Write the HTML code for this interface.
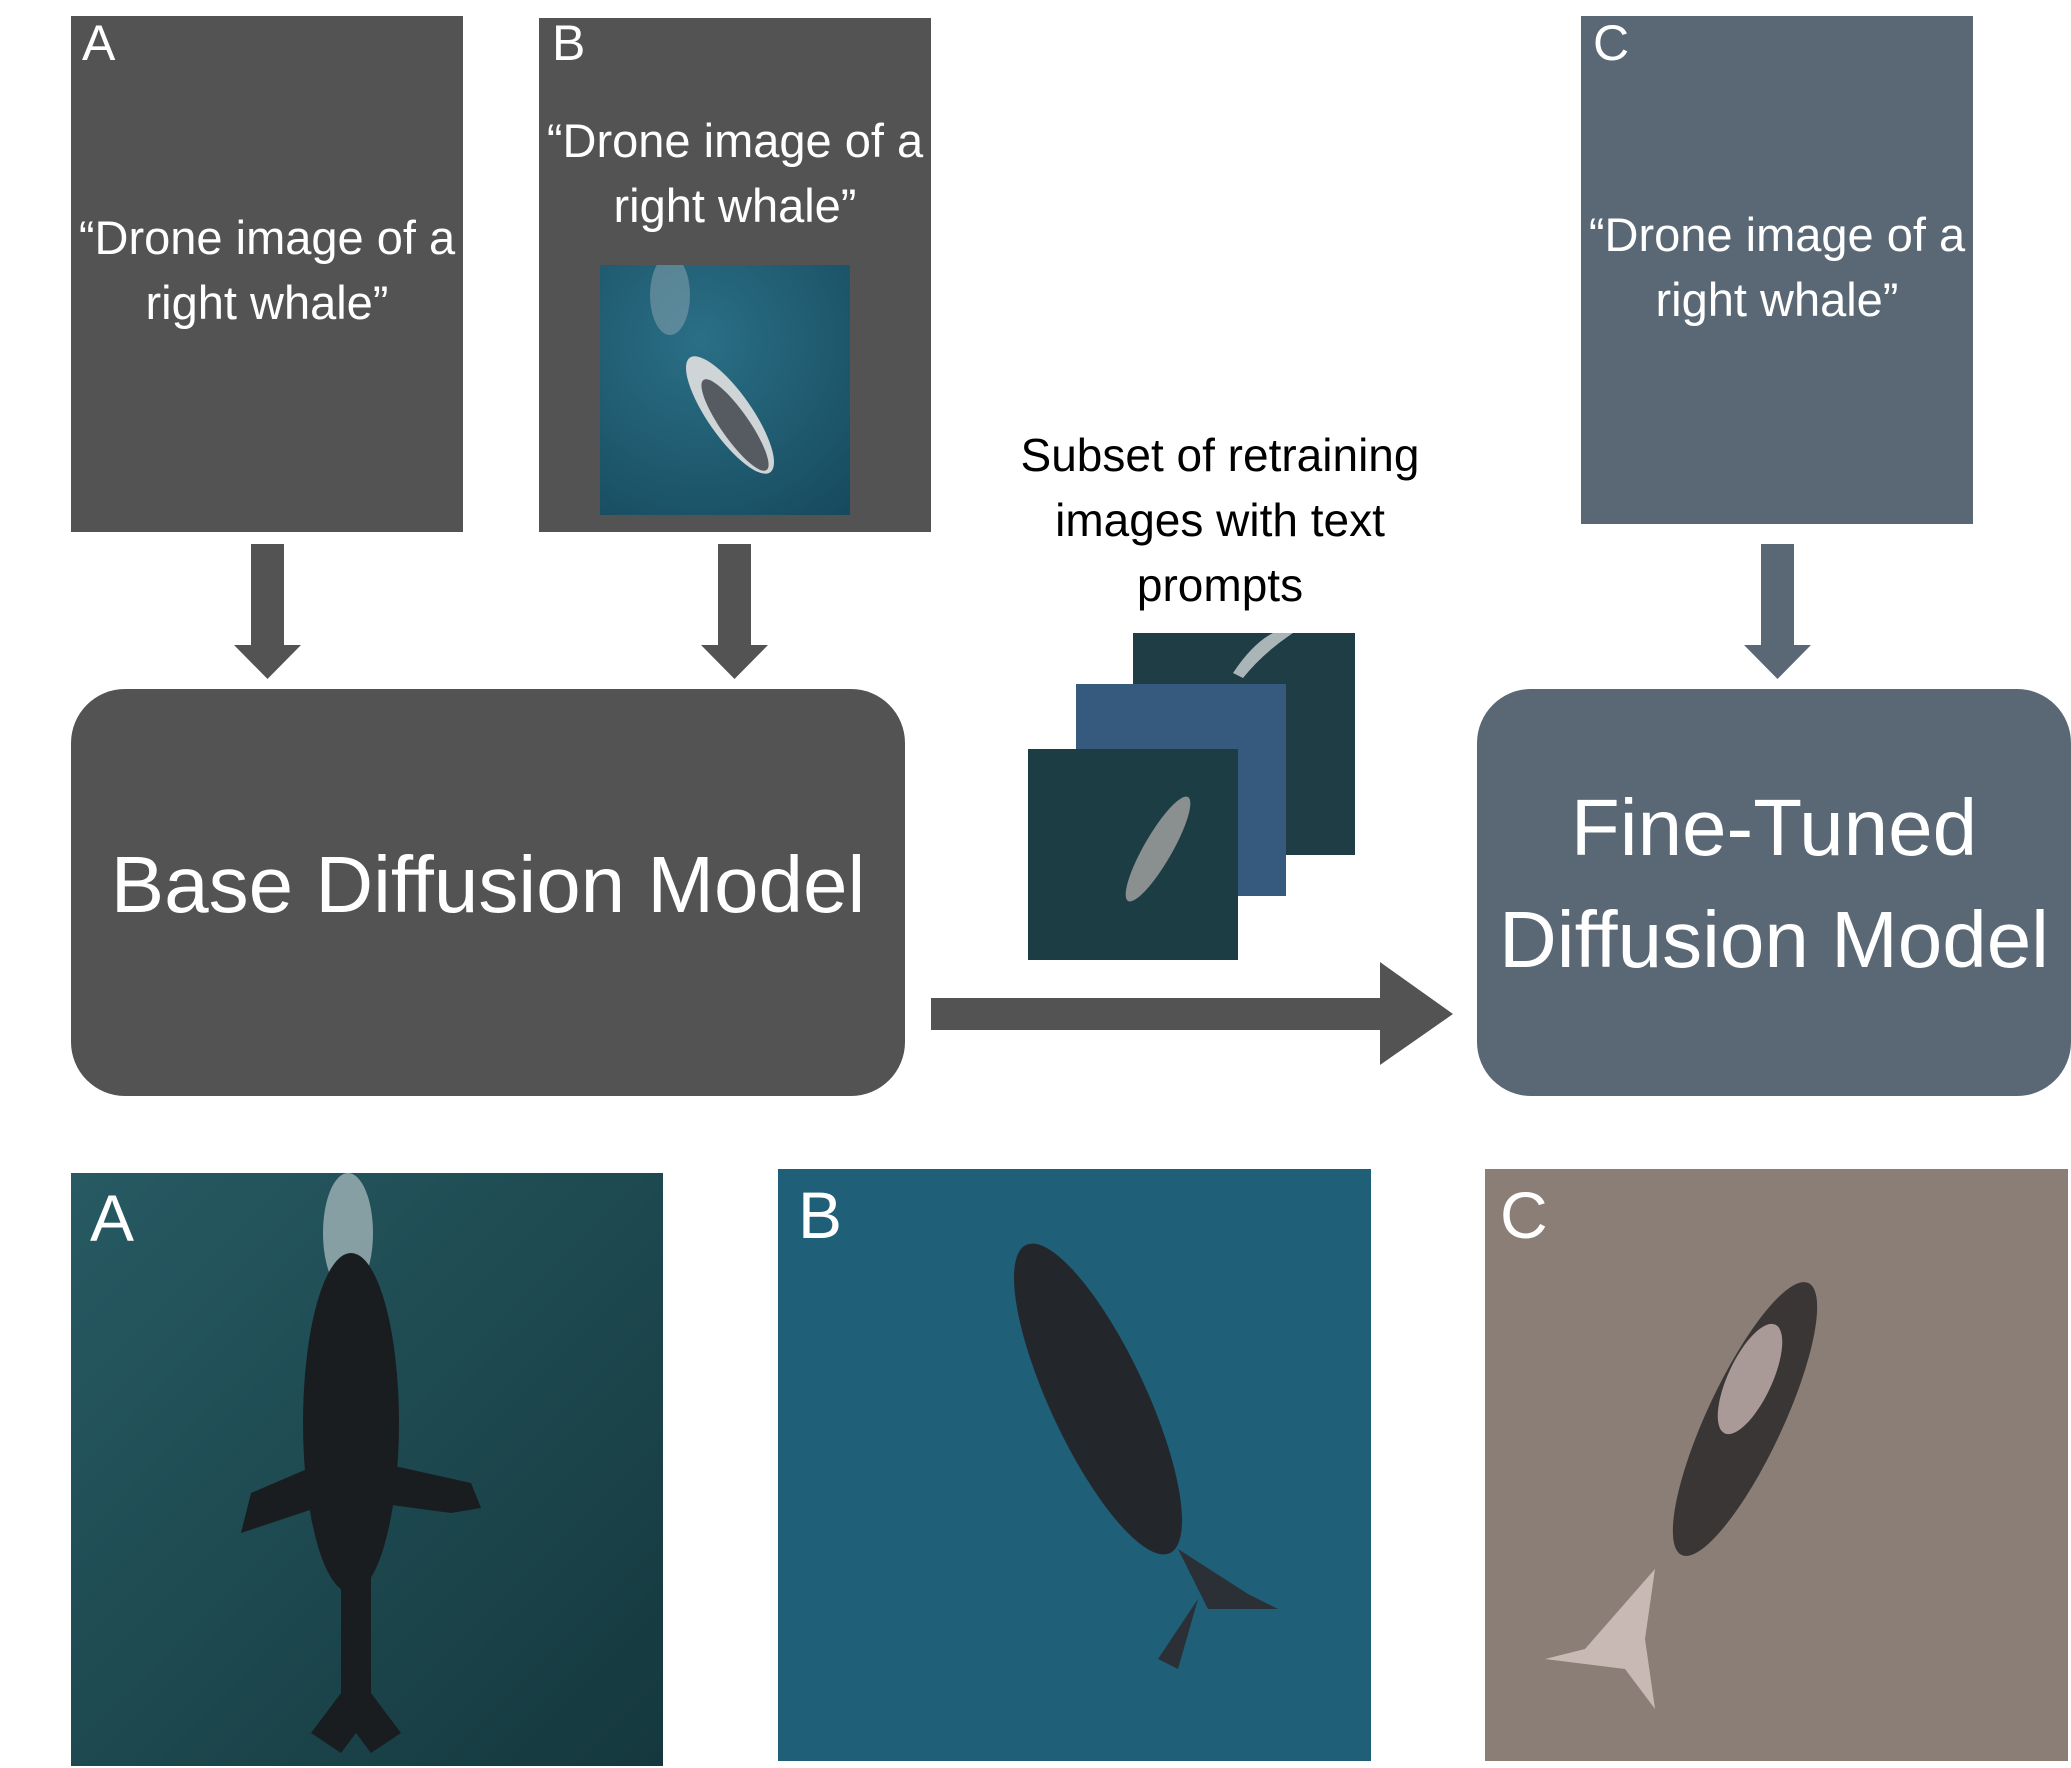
<!DOCTYPE html>
<html><head><meta charset="utf-8"><style>
html,body{margin:0;padding:0;background:#fff;}
body{width:2071px;height:1768px;position:relative;overflow:hidden;font-family:"Liberation Sans",sans-serif;}
.a{position:absolute;}
.dk{background:#535353;}
.sl{background:#596874;}
.t{position:absolute;color:#fff;text-align:center;white-space:nowrap;}
.lbl{position:absolute;color:#fff;font-size:50px;line-height:1;}
</style></head><body>

<div class="a dk" style="left:71px;top:16px;width:392px;height:516px"></div>
<div class="lbl" style="left:82px;top:18px">A</div>
<div class="t" style="left:71px;width:392px;top:205px;font-size:47px;line-height:65px">“Drone image of a<br>right whale”</div>

<div class="a dk" style="left:539px;top:18px;width:392px;height:514px"></div>
<div class="lbl" style="left:552px;top:18px">B</div>
<div class="t" style="left:539px;width:392px;top:108px;font-size:47px;line-height:65px">“Drone image of a<br>right whale”</div>
<svg class="a" style="left:600px;top:265px" width="250" height="250">
<defs><radialGradient id="g1" cx="0.4" cy="0.3" r="0.9"><stop offset="0" stop-color="#2a6f86"/><stop offset="1" stop-color="#174a5e"/></radialGradient></defs>
<rect width="250" height="250" fill="url(#g1)"/>
<ellipse cx="70" cy="30" rx="20" ry="40" fill="#8fa7b3" opacity="0.5"/>
<ellipse cx="130" cy="150" rx="22" ry="70" transform="rotate(-35 130 150)" fill="#cfd4d6"/>
<ellipse cx="135" cy="160" rx="14" ry="55" transform="rotate(-35 135 160)" fill="#555b60"/>
</svg>

<div class="a sl" style="left:1581px;top:16px;width:392px;height:508px"></div>
<div class="lbl" style="left:1593px;top:18px">C</div>
<div class="t" style="left:1581px;width:392px;top:202px;font-size:47px;line-height:65px">“Drone image of a<br>right whale”</div>

<svg class="a" style="left:0;top:0" width="2071" height="1768">
<path d="M251 544 H284 V645 H301 L267.5 679 L234 645 H251 Z" fill="#535353"/>
<path d="M718 544 H751 V645 H768 L734.5 679 L701 645 H718 Z" fill="#535353"/>
<path d="M1761 544 H1794 V645 H1811 L1777.5 679 L1744 645 H1761 Z" fill="#596874"/>
<path d="M931 998 H1380 V962 L1453 1014 L1380 1065 V1030 H931 Z" fill="#535353"/>
</svg>

<div class="a dk" style="left:71px;top:689px;width:834px;height:407px;border-radius:54px"></div>
<div class="t" style="left:71px;width:834px;top:840px;font-size:80px;line-height:90px">Base Diffusion Model</div>
<div class="a sl" style="left:1477px;top:689px;width:594px;height:407px;border-radius:54px"></div>
<div class="t" style="left:1477px;width:594px;top:772px;font-size:80px;line-height:112px">Fine-Tuned<br>Diffusion Model</div>

<div class="a" style="left:920px;width:600px;top:423px;text-align:center;font-size:46px;line-height:65px;color:#000">Subset of retraining<br>images with text<br>prompts</div>

<svg class="a" style="left:1133px;top:633px" width="222" height="222"><rect width="222" height="222" fill="#1f3d45"/><path d="M100 40 Q120 10 140 0 L160 0 Q130 20 110 45Z" fill="#aab5b8"/></svg>
<svg class="a" style="left:1076px;top:684px" width="210" height="212"><rect width="210" height="212" fill="#355a7e"/></svg>
<svg class="a" style="left:1028px;top:749px" width="210" height="211"><rect width="210" height="211" fill="#1c3d43"/><ellipse cx="130" cy="100" rx="14" ry="60" transform="rotate(30 130 100)" fill="#8a8f90"/></svg>

<svg class="a" style="left:71px;top:1173px" width="592" height="593">
<defs><linearGradient id="ga" x1="0" y1="0" x2="1" y2="1"><stop offset="0" stop-color="#275a63"/><stop offset="1" stop-color="#14383d"/></linearGradient></defs>
<rect width="592" height="593" fill="url(#ga)"/>
<ellipse cx="277" cy="60" rx="25" ry="60" fill="#c9d3d5" opacity="0.6"/>
<ellipse cx="280" cy="250" rx="48" ry="170" fill="#1a1d20"/>
<path d="M250 290 L180 320 L170 360 L200 350 L260 330Z" fill="#1a1d20"/>
<path d="M310 290 L400 310 L410 335 L380 340 L305 330Z" fill="#1a1d20"/>
<path d="M270 400 L300 400 L300 520 L330 560 L300 580 L285 560 L270 580 L240 560 L270 520Z" fill="#1a1d20"/>
</svg>
<div class="lbl" style="left:90px;top:1185px;font-size:66px">A</div>

<svg class="a" style="left:778px;top:1169px" width="593" height="592">
<rect width="593" height="592" fill="#1f5f78"/>
<ellipse cx="320" cy="230" rx="48" ry="170" transform="rotate(-25 320 230)" fill="#23262b"/>
<path d="M400 380 L430 440 L500 440 L470 425Z" fill="#2a3036"/>
<path d="M420 430 L400 500 L380 490Z" fill="#2a3036"/>
</svg>
<div class="lbl" style="left:798px;top:1182px;font-size:66px">B</div>

<svg class="a" style="left:1485px;top:1169px" width="583" height="592">
<rect width="583" height="592" fill="#8a7e76"/>
<ellipse cx="260" cy="250" rx="38" ry="150" transform="rotate(25 260 250)" fill="#3a3636"/>
<ellipse cx="265" cy="210" rx="22" ry="60" transform="rotate(25 265 210)" fill="#d9c5c0" opacity="0.7"/>
<path d="M170 400 L100 480 L60 490 L140 500 L170 540 L160 470Z" fill="#d8c8c4" opacity="0.8"/>
</svg>
<div class="lbl" style="left:1500px;top:1182px;font-size:66px">C</div>

</body></html>
